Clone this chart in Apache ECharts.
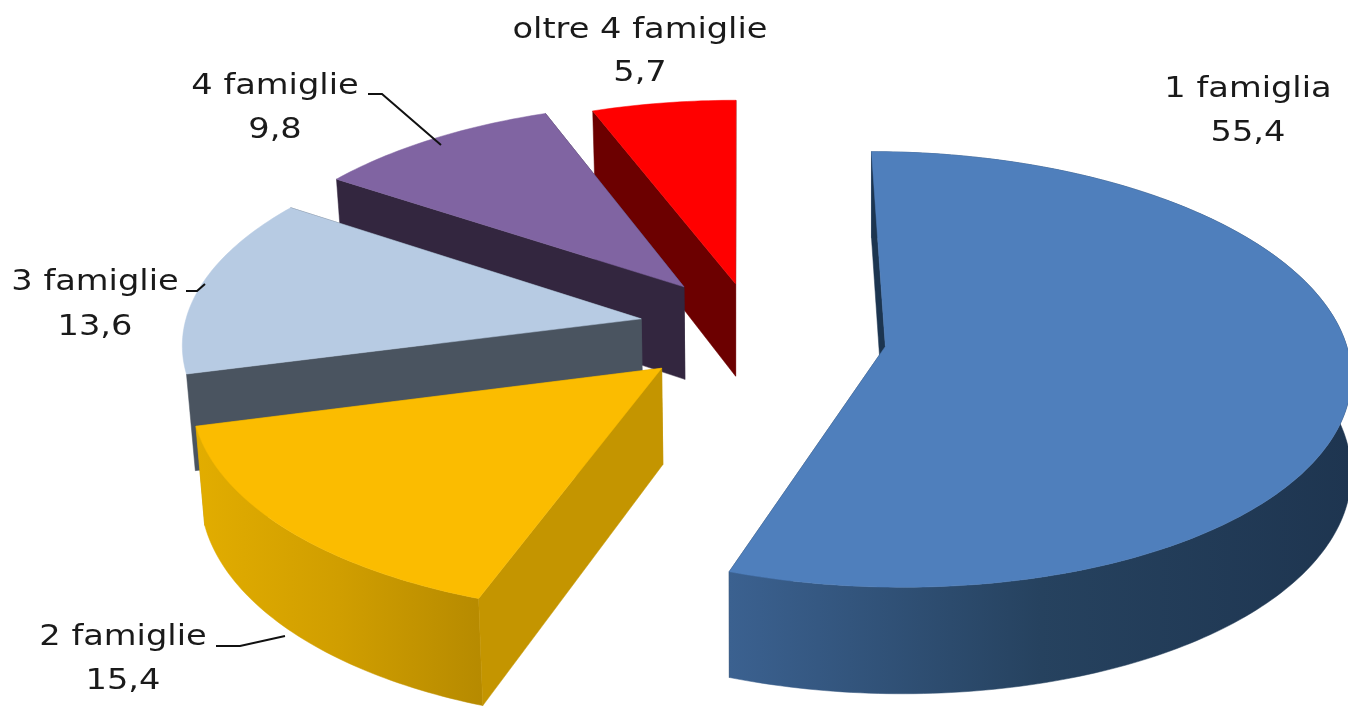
<!DOCTYPE html>
<html>
<head>
<meta charset="utf-8">
<style>html, body { margin: 0; padding: 0; background: #fff; } #chart { width: 1348px; height: 713px; }</style>
<script src="https://cdn.jsdelivr.net/npm/echarts@6/dist/echarts.min.js"></script>
</head>
<body>
<div id="chart"></div>
<script>
var categories = ['1 famiglia', '2 famiglie', '3 famiglie', '4 famiglie', 'oltre 4 famiglie'];
var values = [55.4, 15.4, 13.6, 9.8, 5.7];
var valueLabels = ['55,4', '15,4', '13,6', '9,8', '5,7'];

// colours per slice
var topColors = ['#4f7fbc', '#fbbc00', '#b7cbe3', '#8064a2', '#ff0000'];
var wallColors = ['#1c3550', '#c49500', '#4a5460', '#33263f', '#6c0000'];
// only the two front slices show their outer rim
var rimStops = [
    ['#3b6190', '#26425f', '#1e3550'],
    ['#e2ad00', '#d09e00', '#b68a00'],
    null,
    null,
    null
];

// how far each slice is pulled out of the pie, in pie radii (x, depth)
var explodeX = [0.315, -0.168, -0.217, -0.125, -0.01];
var explodeZ = [-0.03, -0.13, 0.1, 0.255, 0.27];

// label placement: centre x, first line y, second line y
var labelX = [1248, 123, 95, 275, 640];
var labelY1 = [89, 637, 282, 86, 30];
var labelY2 = [133, 681, 327, 130, 73];
var leaders = [
    null,
    [[216, 646], [240, 646], [285, 636]],
    [[186, 291], [197, 291], [205, 284]],
    [[368, 94], [382, 94], [441, 145]],
    null
];

// projection of the pie
var view = { x: 740, y: 340, kx: 460, ky: 214, dist: 9.5, height: 95, lean: 0.016 };

function project(x, z, drop) {
    var s = view.dist / (view.dist + z);
    // the walls lean inwards on the left side only
    var lean = x < 0 ? 1 - drop * view.lean : 1;
    return [
        view.x + x * view.kx * s * lean,
        view.y - z * view.ky * s + drop * view.height * s
    ];
}

var total = values.reduce(function (a, b) { return a + b; }, 0);

function renderSlice(params, api) {
    var i = params.dataIndex;
    var before = 0;
    for (var k = 0; k < i; k++) before += values[k];
    var a0 = before / total * 2 * Math.PI;
    var a1 = (before + api.value(0)) / total * 2 * Math.PI;
    var ox = explodeX[i], oz = explodeZ[i];

    var steps = Math.ceil((a1 - a0) / (Math.PI / 180));
    var topArc = [], lowArc = [];
    for (var n = 0; n <= steps; n++) {
        var a = a0 + (a1 - a0) * n / steps;
        topArc.push(project(ox + Math.sin(a), oz + Math.cos(a), 0));
        lowArc.push(project(ox + Math.sin(a), oz + Math.cos(a), 1));
    }
    var apex = project(ox, oz, 0), apexLow = project(ox, oz, 1);
    var base = (10 - i) * 10;

    function poly(points, fill, order) {
        return {
            type: 'polygon',
            z2: base + order,
            shape: { points: points },
            style: { fill: fill, stroke: fill, lineWidth: 0.5 }
        };
    }

    var children = [
        poly([apex, topArc[steps], lowArc[steps], apexLow], wallColors[i], 0),
        poly([apex, topArc[0], lowArc[0], apexLow], wallColors[i], 2),
        poly([apex].concat(topArc), topColors[i], 3)
    ];
    if (rimStops[i]) {
        children.push(poly(topArc.concat(lowArc.slice().reverse()), new echarts.graphic.LinearGradient(0, 0, 1, 0, [
            { offset: 0, color: rimStops[i][0] },
            { offset: 0.5, color: rimStops[i][1] },
            { offset: 1, color: rimStops[i][2] }
        ]), 1));
    }

    if (leaders[i]) {
        children.push({
            type: 'polyline',
            z2: 200,
            shape: { points: leaders[i] },
            style: { fill: null, stroke: '#111', lineWidth: 2 }
        });
    }
    [[categories[i], labelY1[i]], [valueLabels[i], labelY2[i]]].forEach(function (t) {
        children.push({
            type: 'text',
            z2: 200,
            x: labelX[i],
            y: t[1],
            scaleX: 1.16,
            style: {
                text: t[0], x: 0, y: 0,
                font: '29px "DejaVu Sans"', fill: '#1a1a1a',
                align: 'center', verticalAlign: 'middle'
            }
        });
    });
    return { type: 'group', children: children };
}

var myChart = echarts.init(document.getElementById('chart'));
myChart.setOption({
    backgroundColor: '#fff',
    animation: false,
    series: [{
        type: 'custom',
        coordinateSystem: 'none',
        renderItem: renderSlice,
        data: values.map(function (v, i) { return { name: categories[i], value: [v] }; })
    }]
});
</script>
</body>
</html>
